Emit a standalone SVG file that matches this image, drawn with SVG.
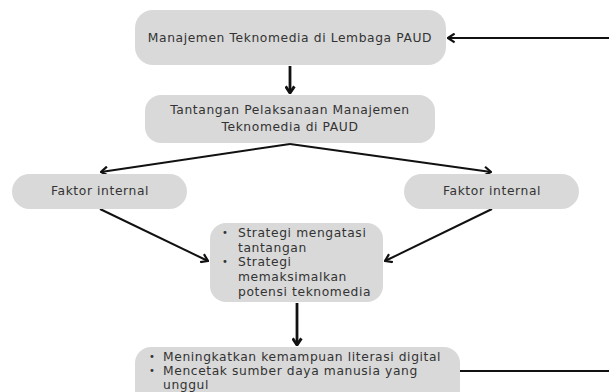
<svg xmlns="http://www.w3.org/2000/svg" width="609" height="392" viewBox="0 0 609 392">
<defs>
<style>
.box{fill:#d9d9d9}
.t{font-family:"DejaVu Sans","Liberation Sans",sans-serif;font-size:12.3px;letter-spacing:0.6px;fill:#333333}
.b{font-family:"DejaVu Sans","Liberation Sans",sans-serif;font-size:10px;fill:#333333}
.c{text-anchor:middle}
.ln{stroke:#111111;stroke-width:2;fill:none}
.v{stroke-width:2.8}
</style>
<marker id="ah" viewBox="0 0 10 10" refX="9" refY="5" markerWidth="11" markerHeight="11" markerUnits="userSpaceOnUse" orient="auto">
<path d="M3,1 L9,5 L3,9" fill="none" stroke="#111111" stroke-width="2"/>
</marker>
<marker id="ahv" viewBox="0 0 10 10" refX="9" refY="5" markerWidth="11" markerHeight="11" markerUnits="userSpaceOnUse" orient="auto">
<path d="M3,1 L9,5 L3,9" fill="none" stroke="#111111" stroke-width="2.6"/>
</marker>
</defs>
<rect width="609" height="392" fill="#ffffff"/>
<g id="connectors">
<path class="ln" d="M609,38 L448,38" marker-end="url(#ah)"/>
<path class="ln v" d="M290,66 L290,93" marker-end="url(#ahv)"/>
<path class="ln" d="M290,144 L101,172" marker-end="url(#ah)"/>
<path class="ln" d="M290,144 L491,172" marker-end="url(#ah)"/>
<path class="ln" d="M100,209 L208,261" marker-end="url(#ah)"/>
<path class="ln" d="M492,209 L385,261" marker-end="url(#ah)"/>
<path class="ln v" d="M297,303 L297,345" marker-end="url(#ahv)"/>
<path class="ln" d="M460,371 L609,371"/>
</g>
<g id="n1">
<rect class="box" x="135" y="10" width="311" height="55" rx="18"/>
<text class="t c" x="290" y="42">Manajemen Teknomedia di Lembaga PAUD</text>
</g>
<g id="n2">
<rect class="box" x="145" y="95" width="290" height="48" rx="16"/>
<text class="t c" x="290" y="114">Tantangan Pelaksanaan Manajemen</text>
<text class="t c" x="290" y="131">Teknomedia di PAUD</text>
</g>
<g id="n3">
<rect class="box" x="12" y="174" width="175" height="35" rx="17.5"/>
<text class="t c" x="100" y="195">Faktor internal</text>
</g>
<g id="n4">
<rect class="box" x="404" y="174" width="175" height="35" rx="17.5"/>
<text class="t c" x="492" y="195">Faktor internal</text>
</g>
<g id="n5">
<rect class="box" x="210" y="223" width="173" height="79" rx="16"/>
<text class="b" x="222" y="236">•</text>
<text class="t" x="238" y="237">Strategi mengatasi</text>
<text class="t" x="238" y="252">tantangan</text>
<text class="b" x="222" y="265">•</text>
<text class="t" x="238" y="266">Strategi</text>
<text class="t" x="238" y="281">memaksimalkan</text>
<text class="t" x="238" y="296">potensi teknomedia</text>
</g>
<g id="n6">
<rect class="box" x="135" y="347" width="325" height="60" rx="16"/>
<text class="b" x="149" y="360">•</text>
<text class="t" x="163" y="361">Meningkatkan kemampuan literasi digital</text>
<text class="b" x="149" y="374">•</text>
<text class="t" x="163" y="375">Mencetak sumber daya manusia yang</text>
<text class="t" x="163" y="389">unggul</text>
</g>
</svg>
